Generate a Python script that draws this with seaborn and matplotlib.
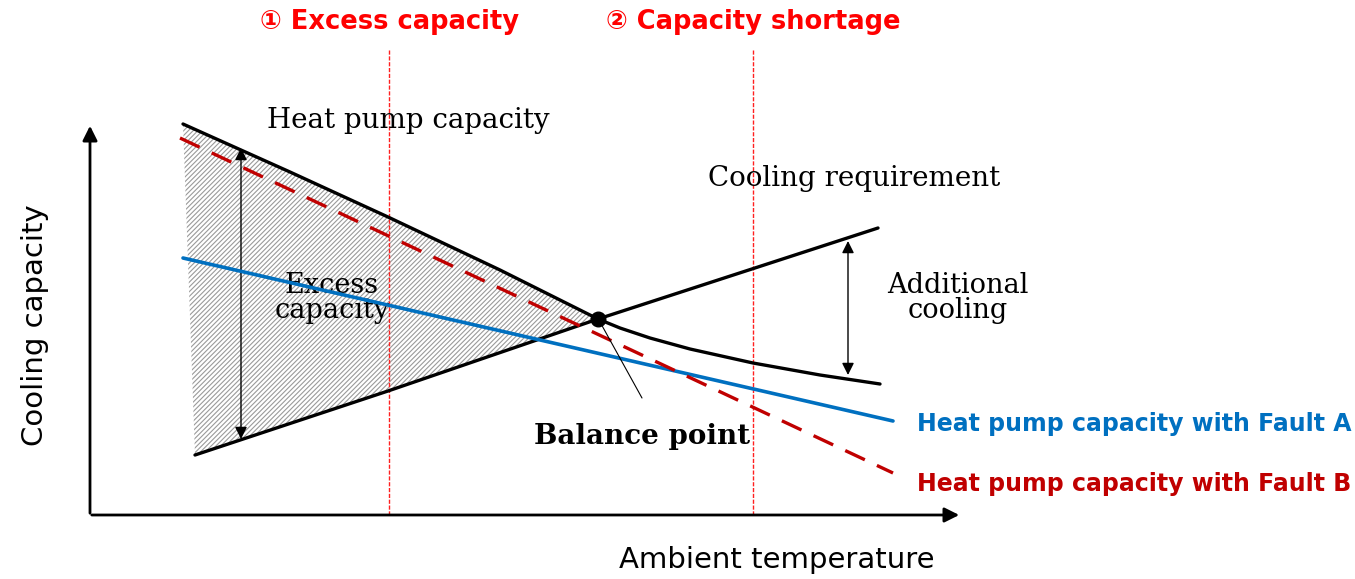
import numpy as np
import matplotlib.pyplot as plt
import seaborn as sns
import pandas as pd

# schematic coordinates: x = ambient temperature, y = cooling capacity (arbitrary units)
hp_x = [93, 200, 298, 410, 508, 530, 560, 600, 663, 730, 790]
hp_y = [391, 343, 298, 245, 196, 187, 177, 166, 152, 140, 131]

req_x = [105, 298, 508, 788]
req_y = [60, 124, 196, 287]

faultA_x = [93, 803]
faultA_y = [257, 94]

faultB_x = [90, 803]
faultB_y = [377, 42]

balance = (508, 196)
region_lines = [299, 663]
region_labels = ["\u2460 Excess capacity", "\u2461 Capacity shortage"]

sns.set_theme(style="white")
plt.rcParams['font.family'] = ['DejaVu Sans', 'Noto Sans CJK JP']
plt.rcParams['text.color'] = 'black'
plt.rcParams['hatch.linewidth'] = 0.8

fig = plt.figure(figsize=(13.55, 5.79), dpi=100)
ax = fig.add_axes([0, 0, 1, 1])
ax.set_xlim(-90, 1265)
ax.set_ylim(-64, 515)
ax.set_axis_off()

# hatched excess capacity region between heat pump capacity and requirement
n_up = hp_x.index(balance[0]) + 1
poly_x = hp_x[:n_up] + req_x[:3][::-1]
poly_y = hp_y[:n_up] + req_y[:3][::-1]
ax.fill(poly_x, poly_y, facecolor='white', edgecolor='#9a9a9a', hatch='///////', linewidth=0, zorder=1)

df_hp = pd.DataFrame({'x': hp_x, 'y': hp_y})
df_req = pd.DataFrame({'x': req_x, 'y': req_y})
sns.lineplot(data=df_hp, x='x', y='y', ax=ax, color='black', lw=2.4, sort=False, estimator=None, zorder=3)
sns.lineplot(data=df_req, x='x', y='y', ax=ax, color='black', lw=2.4, sort=False, estimator=None, zorder=3)
sns.lineplot(x=faultA_x, y=faultA_y, ax=ax, color='#0070c0', lw=2.6, zorder=4)
sns.lineplot(x=faultB_x, y=faultB_y, ax=ax, color='#c00000', lw=2.4, zorder=4,
             linestyle=(0, (6.5, 4)))

# region separators
for xv, lab in zip(region_lines, region_labels):
    ax.plot([xv, xv], [0, 465], color='#ff2020', lw=1.0, linestyle=(0, (3, 1.2)), zorder=2)
    ax.text(xv, 493, lab, color='#ff0000', fontsize=18.5, fontweight='bold',
            ha='center', va='center')

# axes arrows
ax.annotate('', xy=(0, 392), xytext=(0, -1),
            arrowprops=dict(arrowstyle='-|>', color='black', lw=2, mutation_scale=22))
ax.annotate('', xy=(872, 0), xytext=(-1, 0),
            arrowprops=dict(arrowstyle='-|>', color='black', lw=2, mutation_scale=22))

# double arrows
ax.annotate('', xy=(151, 367), xytext=(151, 76),
            arrowprops=dict(arrowstyle='<|-|>', color='black', lw=1, mutation_scale=18,
                            shrinkA=0, shrinkB=0))
ax.annotate('', xy=(758, 274), xytext=(758, 140),
            arrowprops=dict(arrowstyle='<|-|>', color='black', lw=1, mutation_scale=18,
                            shrinkA=0, shrinkB=0))

# balance point
ax.scatter([balance[0]], [balance[1]], s=110, color='black', zorder=6)
ax.plot([balance[0] + 2, 552], [balance[1] - 3, 117], color='black', lw=0.8, zorder=5)

serif = 'DejaVu Serif'
ax.text(318, 395, "Heat pump capacity", family=serif, fontsize=20, ha='center', va='center')
ax.text(764, 337, "Cooling requirement", family=serif, fontsize=20, ha='center', va='center')
ax.text(242, 217, "Excess\ncapacity", family=serif, fontsize=19.5, ha='center', va='center',
        linespacing=0.95, zorder=2)
ax.text(868, 217, "Additional\ncooling", family=serif, fontsize=19.5, ha='center', va='center',
        linespacing=0.95)
ax.text(552, 78, "Balance point", family=serif, fontsize=20, fontweight='bold',
        ha='center', va='center')

ax.text(827, 91, "Heat pump capacity with Fault A", color='#0070c0', fontsize=17,
        fontweight='bold', ha='left', va='center')
ax.text(827, 31, "Heat pump capacity with Fault B", color='#c00000', fontsize=17,
        fontweight='bold', ha='left', va='center')

ax.text(-55, 190, "Cooling capacity", fontsize=21, rotation=90, ha='center', va='center')
ax.text(687, -45, "Ambient temperature", fontsize=21, ha='center', va='center')

fig.savefig('out.png', dpi=100)
